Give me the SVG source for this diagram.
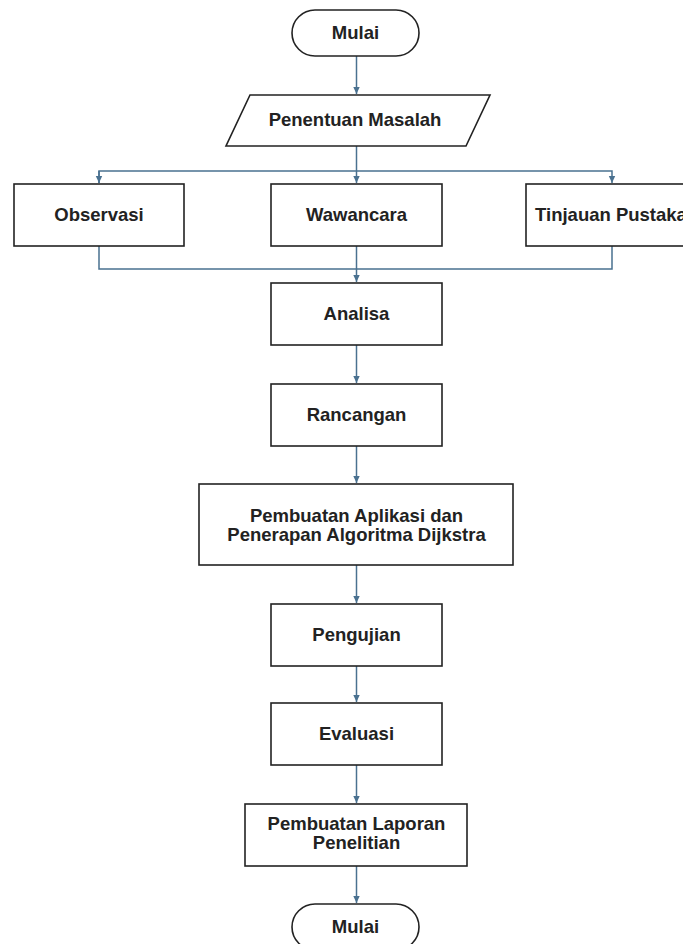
<svg xmlns="http://www.w3.org/2000/svg" width="683" height="944" viewBox="0 0 683 944">
<defs>
<marker id="arr" markerWidth="8" markerHeight="8" refX="7" refY="4" orient="auto" markerUnits="userSpaceOnUse">
<path d="M0,0.8 L7,4 L0,7.2 Z" fill="#4a7190"/>
</marker>
</defs>
<style>
.n{fill:#fff;stroke:#222;stroke-width:1.6}
.t{font-family:"Liberation Sans",Arial,sans-serif;font-weight:bold;font-size:18.5px;fill:#222;text-anchor:middle}
.c{fill:none;stroke:#4a7190;stroke-width:1.5}
</style>
<rect width="683" height="944" fill="#fff"/>
<g id="connectors">
<path class="c" d="M356.5,56 V94" marker-end="url(#arr)"/>
<path class="c" d="M356.5,146 V183" marker-end="url(#arr)"/>
<path class="c" d="M99,183 V171 H612 V183" marker-end="url(#arr)"/>
<path class="c" d="M99,171 V183" marker-end="url(#arr)"/>
<path class="c" d="M99,246 V269 H612 V246"/>
<path class="c" d="M356.5,246 V282" marker-end="url(#arr)"/>
<path class="c" d="M356.5,345 V383" marker-end="url(#arr)"/>
<path class="c" d="M356.5,446 V483" marker-end="url(#arr)"/>
<path class="c" d="M356.5,565 V603" marker-end="url(#arr)"/>
<path class="c" d="M356.5,666 V702" marker-end="url(#arr)"/>
<path class="c" d="M356.5,765 V803" marker-end="url(#arr)"/>
<path class="c" d="M356.5,866 V903" marker-end="url(#arr)"/>
</g>
<g id="start">
<rect class="n" x="292" y="10" width="127" height="46" rx="23" ry="23"/>
<text class="t" x="355.5" y="39">Mulai</text>
</g>
<g id="masalah">
<polygon class="n" points="250,95 490,95 466,146 226,146"/>
<text class="t" x="355" y="126">Penentuan Masalah</text>
</g>
<g id="observasi">
<rect class="n" x="14" y="184" width="170" height="62"/>
<text class="t" x="99" y="221">Observasi</text>
</g>
<g id="wawancara">
<rect class="n" x="271" y="184" width="171" height="62"/>
<text class="t" x="356.5" y="221">Wawancara</text>
</g>
<g id="tinjauan">
<rect class="n" x="526" y="184" width="172" height="62"/>
<text class="t" x="611" y="221">Tinjauan Pustaka</text>
</g>
<g id="analisa">
<rect class="n" x="271" y="283" width="171" height="62"/>
<text class="t" x="356.5" y="320">Analisa</text>
</g>
<g id="rancangan">
<rect class="n" x="271" y="384" width="171" height="62"/>
<text class="t" x="356.5" y="421">Rancangan</text>
</g>
<g id="pembuatan">
<rect class="n" x="199" y="484" width="314" height="81"/>
<text class="t" x="356.5" y="522">Pembuatan Aplikasi dan</text>
<text class="t" x="356.5" y="541">Penerapan Algoritma Dijkstra</text>
</g>
<g id="pengujian">
<rect class="n" x="271" y="604" width="171" height="62"/>
<text class="t" x="356.5" y="641">Pengujian</text>
</g>
<g id="evaluasi">
<rect class="n" x="271" y="703" width="171" height="62"/>
<text class="t" x="356.5" y="740">Evaluasi</text>
</g>
<g id="laporan">
<rect class="n" x="245" y="804" width="222" height="62"/>
<text class="t" x="356.5" y="830">Pembuatan Laporan</text>
<text class="t" x="356.5" y="849">Penelitian</text>
</g>
<g id="end">
<rect class="n" x="292" y="904" width="127" height="46" rx="23" ry="23"/>
<text class="t" x="355.5" y="933">Mulai</text>
</g>
</svg>
